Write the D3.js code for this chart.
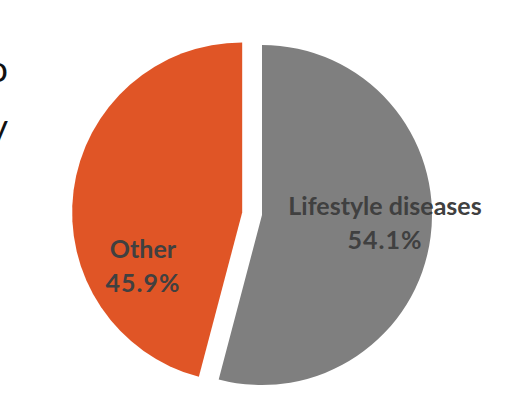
<!DOCTYPE html>
<html><head><meta charset="utf-8">
<script src="https://cdn.jsdelivr.net/npm/d3@7"></script>
<style>body{margin:0;background:#fff}</style>
</head><body>
<svg id="chart" width="508" height="418"></svg>
<script>
const categories = ["Lifestyle diseases", "Other"];
const values = [54.1, 45.9];
const colors = ["#7f7f7f", "#e05526"];
const explode = [0, 20];

const svg = d3.select("#chart");
const cx = 262, cy = 215, r = 170;

// Title text clipped by the left edge, as in the source slide
svg.append("text").attr("x", 8).attr("y", 82).attr("text-anchor", "end")
    .attr("font-family", "Lato").attr("font-size", 36).attr("fill", "#111").text("to");
svg.append("text").attr("x", 8).attr("y", 140).attr("text-anchor", "end")
    .attr("font-family", "Lato").attr("font-size", 36).attr("fill", "#111").text("by");

const pie = d3.pie().sort(null).value(d => d)(values);
const arc = d3.arc().innerRadius(0).outerRadius(r);

const g = svg.append("g").attr("transform", `translate(${cx},${cy})`);
const labelPos = [[123, 0], [-119, 43]];

pie.forEach((d, i) => {
    const mid = (d.startAngle + d.endAngle) / 2;
    const dx = Math.sin(mid) * explode[i], dy = -Math.cos(mid) * explode[i];
    const s = g.append("g").attr("transform", `translate(${dx},${dy})`);
    s.append("path").attr("d", arc(d)).attr("fill", colors[i]);
    const t = s.append("text").attr("text-anchor", "middle")
        .attr("font-family", "Lato").attr("font-weight", "bold")
        .attr("font-size", 25).attr("fill", "#404040");
    t.append("tspan").attr("x", labelPos[i][0] - dx).attr("y", labelPos[i][1] - dy).text(categories[i]);
    t.append("tspan").attr("x", labelPos[i][0] - dx).attr("y", labelPos[i][1] - dy + 34)
        .attr("letter-spacing", 1)
        .text(d3.format(".1f")(values[i]) + "%");
});
</script>
</body></html>
